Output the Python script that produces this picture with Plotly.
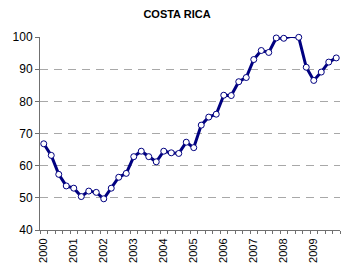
import plotly.graph_objects as go

years = ["2000", "2001", "2002", "2003", "2004", "2005", "2006", "2007", "2008", "2009"]
values = [66.8, 63.2, 57.3, 53.7, 53.0, 50.4, 52.1, 51.7,
          49.7, 53.0, 56.4, 57.6, 62.8, 64.5, 62.8, 61.2,
          64.5, 64.0, 63.8, 67.3, 65.6, 72.6, 75.1, 76.0,
          81.9, 81.8, 86.1, 87.4, 93.0, 95.8, 95.2, 99.7,
          99.6, 100.2, 99.9, 90.6, 86.5, 89.1, 92.2, 93.5]
x = list(range(len(values)))

fig = go.Figure(go.Scatter(
    x=x, y=values, mode="lines+markers",
    line=dict(color="#000080", width=3),
    marker=dict(symbol="circle", size=6, color="white",
                line=dict(color="#000080", width=1)),
    hoverinfo="skip", cliponaxis=False))

fig.update_layout(
    width=341, height=270,
    margin=dict(l=40, r=1, t=37, b=40, autoexpand=False),
    paper_bgcolor="white", plot_bgcolor="white",
    showlegend=False,
    font=dict(family="Arial, Liberation Sans, sans-serif", size=11, color="black"),
    title=dict(text="<b>COSTA RICA</b>", x=177/341, xref="container", xanchor="center",
               y=1 - 14/270, yref="container", yanchor="middle",
               font=dict(size=11, color="black"), automargin=False),
)
fig.update_xaxes(
    range=[-0.5, 39.5], automargin=False,
    tickmode="array", tickvals=[i * 4 for i in range(len(years))], ticktext=years,
    tickangle=-90, ticks="", showgrid=False, zeroline=False,
    ticklabelstandoff=3,
    showline=True, linecolor="#707070", linewidth=1,
    minor=dict(ticks="outside", tickmode="linear", tick0=-0.5, dtick=1,
               ticklen=3, tickcolor="#707070", showgrid=False),
    tickfont=dict(size=11),
)
fig.update_yaxes(
    range=[40, 100], tickmode="linear", tick0=40, dtick=10, automargin=False,
    ticks="outside", ticklen=4, tickcolor="#707070",
    showgrid=True, gridcolor="#a8a8a8", griddash="8px,6px", gridwidth=1,
    zeroline=False, showline=True, linecolor="#707070", linewidth=1,
    tickfont=dict(size=12),
)
fig.write_html("out.html", config={"displayModeBar": False},
               post_script="document.body.style.margin='0';document.body.style.overflow='hidden';")
